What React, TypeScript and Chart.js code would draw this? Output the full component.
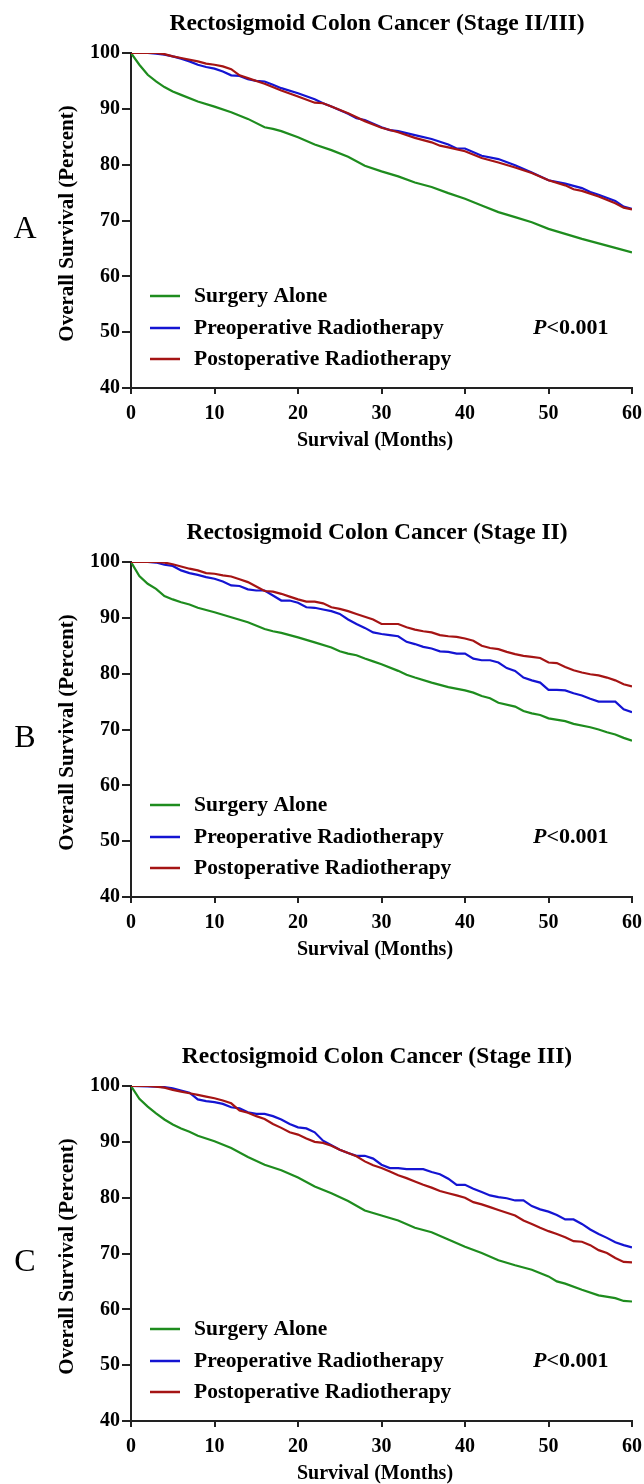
import React, { useEffect, useRef } from 'react';
import { Chart, registerables } from 'chart.js';

Chart.register(...registerables);

const FONT = "'Liberation Serif', 'Times New Roman', serif";

// ---- shared labels ----
const xTickValues = [0, 10, 20, 30, 40, 50, 60];
const yTickValues = [40, 50, 60, 70, 80, 90, 100];
const seriesNames = ['Surgery Alone', 'Preoperative Radiotherapy', 'Postoperative Radiotherapy'];
const seriesColors = ['#1e8c1e', '#1414d2', '#a51414'];
const pValueText = '<0.001';
const xAxisTitle = 'Survival (Months)';
const yAxisTitle = 'Overall Survival (Percent)';
const panelTitles = [
  'Rectosigmoid Colon Cancer (Stage II/III)',
  'Rectosigmoid Colon Cancer (Stage II)',
  'Rectosigmoid Colon Cancer (Stage III)',
];
const panelLetters = ['A', 'B', 'C'];

// ---- Panel A ----
const monthsA_surgery = [0, 1, 2, 3, 4, 5, 6, 8, 10, 12, 14, 16, 17, 18, 20, 22, 24, 26, 28, 30, 32, 34, 36, 38, 40, 42, 44, 46, 48, 50, 52, 54, 56, 58, 60];
const survA_surgery = [100, 97.9, 96.1, 94.9, 93.9, 93.1, 92.5, 91.3, 90.4, 89.4, 88.2, 86.7, 86.4, 86.0, 84.9, 83.6, 82.6, 81.4, 79.8, 78.8, 77.9, 76.8, 76.0, 74.9, 73.9, 72.7, 71.5, 70.6, 69.7, 68.5, 67.6, 66.7, 65.9, 65.1, 64.3];
const monthsA_preop = [0, 2, 3, 4, 5, 6, 7, 8, 9, 10, 11, 12, 13, 14, 15, 16, 17, 18, 20, 22, 23, 24, 26, 27, 28, 30, 31, 32, 34, 36, 38, 39, 40, 42, 44, 46, 48, 50, 52, 54, 55, 56, 58, 59, 60];
const survA_preop = [100, 100, 99.9, 99.7, 99.4, 99.0, 98.5, 97.9, 97.5, 97.2, 96.7, 96.0, 95.9, 95.3, 95.0, 94.9, 94.3, 93.7, 92.8, 91.7, 91.0, 90.4, 89.1, 88.3, 88.0, 86.7, 86.2, 86.0, 85.3, 84.6, 83.6, 82.9, 82.9, 81.6, 81.0, 79.9, 78.6, 77.2, 76.6, 75.8, 75.1, 74.6, 73.5, 72.5, 72.1];
const monthsA_postop = [0, 3, 4, 5, 6, 8, 9, 10, 11, 12, 13, 14, 16, 18, 20, 22, 23, 24, 26, 28, 30, 32, 34, 36, 37, 38, 40, 42, 44, 46, 48, 50, 52, 53, 54, 56, 58, 59, 60];
const survA_postop = [100, 100, 99.8, 99.4, 99.1, 98.5, 98.1, 97.9, 97.6, 97.1, 96.0, 95.5, 94.5, 93.3, 92.2, 91.1, 91.0, 90.4, 89.2, 87.8, 86.6, 85.8, 84.8, 84.0, 83.4, 83.1, 82.4, 81.2, 80.4, 79.5, 78.5, 77.2, 76.3, 75.6, 75.3, 74.3, 73.1, 72.3, 72.0];

// ---- Panel B ----
const monthsB_surgery = [0, 1, 2, 3, 4, 5, 6, 7, 8, 10, 12, 14, 16, 17, 18, 20, 22, 24, 25, 26, 27, 28, 29, 30, 32, 33, 34, 36, 38, 40, 41, 42, 43, 44, 46, 47, 48, 49, 50, 52, 53, 55, 56, 57, 58, 59, 60];
const survB_surgery = [100, 97.5, 96.1, 95.2, 93.9, 93.3, 92.8, 92.4, 91.8, 91.0, 90.1, 89.2, 88.0, 87.6, 87.3, 86.5, 85.6, 84.7, 84.0, 83.6, 83.3, 82.7, 82.2, 81.7, 80.5, 79.8, 79.3, 78.4, 77.6, 77.0, 76.6, 76.0, 75.6, 74.8, 74.1, 73.3, 72.9, 72.6, 72.0, 71.5, 71.0, 70.4, 70.0, 69.5, 69.1, 68.5, 68.0];
const monthsB_preop = [0, 2, 3, 4, 5, 6, 7, 8, 9, 10, 11, 12, 13, 14, 15, 16, 17, 18, 19, 20, 21, 22, 23, 24, 25, 26, 27, 28, 29, 30, 31, 32, 33, 34, 35, 36, 37, 38, 39, 40, 41, 42, 43, 44, 45, 46, 47, 48, 49, 50, 51, 52, 53, 54, 55, 56, 57, 58, 59, 60];
const survB_preop = [100, 100, 99.9, 99.5, 99.3, 98.5, 98.0, 97.7, 97.3, 97.0, 96.5, 95.8, 95.7, 95.1, 94.9, 94.9, 94.0, 93.1, 93.1, 92.7, 91.9, 91.8, 91.5, 91.2, 90.7, 89.7, 88.9, 88.2, 87.4, 87.1, 86.9, 86.7, 85.7, 85.3, 84.8, 84.5, 84.0, 83.9, 83.6, 83.6, 82.7, 82.4, 82.4, 82.0, 81.0, 80.5, 79.3, 78.8, 78.4, 77.1, 77.1, 77.0, 76.5, 76.1, 75.5, 75.0, 75.0, 75.0, 73.6, 73.1];
const monthsB_postop = [0, 2, 3, 4, 5, 6, 7, 8, 9, 10, 11, 12, 13, 14, 15, 16, 17, 18, 19, 20, 21, 22, 23, 24, 25, 26, 27, 28, 29, 30, 31, 32, 33, 34, 35, 36, 37, 38, 39, 40, 41, 42, 43, 44, 45, 46, 47, 48, 49, 50, 51, 52, 53, 54, 55, 56, 57, 58, 59, 60];
const survB_postop = [100, 100, 100, 99.9, 99.6, 99.2, 98.8, 98.5, 98.0, 97.9, 97.6, 97.4, 96.9, 96.4, 95.6, 94.8, 94.7, 94.3, 93.8, 93.3, 92.9, 92.9, 92.6, 91.9, 91.6, 91.2, 90.7, 90.2, 89.7, 88.9, 88.9, 88.9, 88.3, 87.9, 87.6, 87.4, 86.9, 86.7, 86.6, 86.3, 85.9, 85.0, 84.6, 84.4, 83.9, 83.5, 83.2, 83.0, 82.8, 82.0, 81.9, 81.2, 80.6, 80.2, 79.9, 79.7, 79.3, 78.8, 78.1, 77.7];

// ---- Panel C ----
const monthsC_surgery = [0, 1, 2, 3, 4, 5, 6, 7, 8, 10, 12, 14, 16, 18, 20, 22, 24, 26, 28, 30, 32, 34, 36, 38, 40, 42, 44, 46, 48, 50, 51, 52, 54, 56, 58, 59, 60];
const survC_surgery = [100, 97.7, 96.3, 95.1, 94.0, 93.1, 92.4, 91.8, 91.1, 90.1, 88.9, 87.3, 85.9, 84.9, 83.6, 82.0, 80.8, 79.4, 77.7, 76.8, 75.9, 74.6, 73.8, 72.5, 71.2, 70.1, 68.8, 67.9, 67.1, 65.9, 65.0, 64.6, 63.5, 62.5, 62.0, 61.5, 61.4];
const monthsC_preop = [0, 3, 4, 5, 6, 7, 8, 9, 10, 11, 12, 13, 14, 15, 16, 17, 18, 19, 20, 21, 22, 23, 24, 25, 26, 27, 28, 29, 30, 31, 32, 33, 34, 35, 36, 37, 38, 39, 40, 41, 42, 43, 44, 45, 46, 47, 48, 49, 50, 51, 52, 53, 54, 55, 56, 57, 58, 59, 60];
const survC_preop = [100, 99.9, 99.8, 99.6, 99.2, 98.8, 97.6, 97.3, 97.1, 96.8, 96.2, 96.0, 95.3, 95.0, 95.0, 94.6, 94.0, 93.2, 92.6, 92.4, 91.7, 90.2, 89.4, 88.6, 88.0, 87.5, 87.5, 87.0, 85.9, 85.3, 85.3, 85.1, 85.1, 85.1, 84.6, 84.2, 83.4, 82.3, 82.3, 81.6, 81.0, 80.4, 80.1, 79.9, 79.5, 79.5, 78.5, 77.9, 77.5, 76.9, 76.1, 76.1, 75.3, 74.3, 73.5, 72.8, 72.0, 71.5, 71.1];
const monthsC_postop = [0, 2, 3, 4, 5, 6, 7, 8, 9, 10, 11, 12, 13, 14, 15, 16, 17, 18, 19, 20, 21, 22, 23, 24, 25, 26, 27, 28, 29, 30, 31, 32, 33, 34, 35, 36, 37, 38, 39, 40, 41, 42, 43, 44, 45, 46, 47, 48, 49, 50, 51, 52, 53, 54, 55, 56, 57, 58, 59, 60];
const survC_postop = [100, 100, 99.9, 99.7, 99.3, 99.0, 98.7, 98.4, 98.1, 97.8, 97.4, 96.9, 95.6, 95.2, 94.6, 94.1, 93.2, 92.5, 91.7, 91.3, 90.6, 90.0, 89.8, 89.3, 88.6, 88.0, 87.4, 86.5, 85.8, 85.3, 84.7, 84.0, 83.5, 82.9, 82.3, 81.8, 81.2, 80.8, 80.4, 80.0, 79.2, 78.8, 78.3, 77.8, 77.3, 76.8, 75.9, 75.3, 74.6, 74.0, 73.5, 72.9, 72.2, 72.1, 71.5, 70.6, 70.1, 69.2, 68.5, 68.4];

const panels = [
  { months: [monthsA_surgery, monthsA_preop, monthsA_postop], surv: [survA_surgery, survA_preop, survA_postop] },
  { months: [monthsB_surgery, monthsB_preop, monthsB_postop], surv: [survB_surgery, survB_preop, survB_postop] },
  { months: [monthsC_surgery, monthsC_preop, monthsC_postop], surv: [survC_surgery, survC_preop, survC_postop] },
];

const panelTops = [0, 509, 1033];
const CANVAS_W = 644;
const CANVAS_H = 451;
const PAD_TOP = 53;
const AXIS_LEFT = 131;
const PLOT_BOTTOM = 388;
const AXIS_COLOR = '#222';

const overlayPlugin = {
  id: 'overlay',
  afterDraw(chart: any, _args: any, opts: any) {
    const { ctx, chartArea: ca } = chart;
    const cy = (ca.top + ca.bottom) / 2;
    ctx.save();
    ctx.fillStyle = '#000';
    ctx.textBaseline = 'middle';
    ctx.textAlign = 'center';
    // title
    ctx.font = `bold 23.5px ${FONT}`;
    ctx.fillText(opts.title, 377, ca.top - 29);
    // panel letter
    ctx.font = `32px ${FONT}`;
    ctx.fillText(opts.letter, 25, cy + 9);
    // x axis title
    ctx.font = `bold 20px ${FONT}`;
    ctx.fillText(xAxisTitle, 375, ca.bottom + 53);
    // y axis title
    ctx.save();
    ctx.translate(68, cy + 3);
    ctx.rotate(-Math.PI / 2);
    ctx.font = `bold 21px ${FONT}`;
    ctx.fillText(yAxisTitle, 0, 0);
    ctx.restore();
    // legend
    const rows = [ca.top + 243, ca.top + 275, ca.top + 306];
    ctx.textAlign = 'left';
    ctx.font = `bold 21.5px ${FONT}`;
    seriesNames.forEach((name, i) => {
      ctx.strokeStyle = seriesColors[i];
      ctx.lineWidth = 2.5;
      ctx.beginPath();
      ctx.moveTo(150, rows[i]);
      ctx.lineTo(180, rows[i]);
      ctx.stroke();
      ctx.fillText(name, 194, rows[i]);
    });
    // p value
    ctx.font = `italic bold 22px ${FONT}`;
    ctx.fillText('P', 533, rows[1]);
    const pw = ctx.measureText('P').width;
    ctx.font = `bold 22px ${FONT}`;
    ctx.fillText(pValueText, 533 + pw, rows[1]);
    ctx.restore();
  },
};

function Panel({ index }: { index: number }) {
  const ref = useRef<HTMLCanvasElement | null>(null);
  useEffect(() => {
    const p = panels[index];
    const datasets = seriesNames.map((name, i) => ({
      label: name,
      data: p.months[i].map((m, j) => ({ x: m, y: p.surv[i][j] })),
      borderColor: seriesColors[i],
      backgroundColor: seriesColors[i],
      borderWidth: 2.2,
      pointRadius: 0,
      tension: 0,
      fill: false,
      order: 2 - i,
    }));
    const tickFont = { family: FONT, weight: 'bold' as const, size: 20 };
    const chart = new Chart(ref.current as HTMLCanvasElement, {
      type: 'line',
      data: { datasets },
      options: {
        animation: false,
        responsive: false,
        devicePixelRatio: 1,
        layout: { padding: { top: PAD_TOP, right: 12, left: 0, bottom: 0 } },
        plugins: {
          legend: { display: false },
          tooltip: { enabled: false },
          overlay: { title: panelTitles[index], letter: panelLetters[index] },
        } as any,
        scales: {
          x: {
            type: 'linear',
            min: 0,
            max: 60,
            afterBuildTicks: (s: any) => { s.ticks = xTickValues.map((v) => ({ value: v })); },
            afterFit: (s: any) => {
              s.height = CANVAS_H - PLOT_BOTTOM;
              s.paddingLeft = 0;
              s.paddingRight = 0;
            },
            ticks: { font: tickFont, color: '#000', padding: 8, maxRotation: 0, autoSkip: false },
            grid: { drawOnChartArea: false, drawTicks: true, tickLength: 6, color: AXIS_COLOR, lineWidth: 2 },
            border: { display: true, color: AXIS_COLOR, width: 2 },
          },
          y: {
            type: 'linear',
            min: 40,
            max: 100,
            afterBuildTicks: (s: any) => { s.ticks = yTickValues.map((v) => ({ value: v })); },
            afterFit: (s: any) => {
              s.width = AXIS_LEFT;
              s.paddingTop = 0;
              s.paddingBottom = 0;
            },
            ticks: { font: tickFont, color: '#000', padding: 2, autoSkip: false },
            grid: { drawOnChartArea: false, drawTicks: true, tickLength: 9, color: AXIS_COLOR, lineWidth: 2 },
            border: { display: true, color: AXIS_COLOR, width: 2 },
          },
        },
      },
      plugins: [overlayPlugin],
    });
    return () => chart.destroy();
  }, [index]);
  return (
    <canvas
      ref={ref}
      width={CANVAS_W}
      height={CANVAS_H}
      style={{ position: 'absolute', left: 0, top: panelTops[index], width: CANVAS_W, height: CANVAS_H }}
    />
  );
}

export default function App() {
  return (
    <div style={{ position: 'absolute', left: 0, top: 0, width: 644, height: 1484, background: '#fff' }}>
      <Panel index={0} />
      <Panel index={1} />
      <Panel index={2} />
    </div>
  );
}
